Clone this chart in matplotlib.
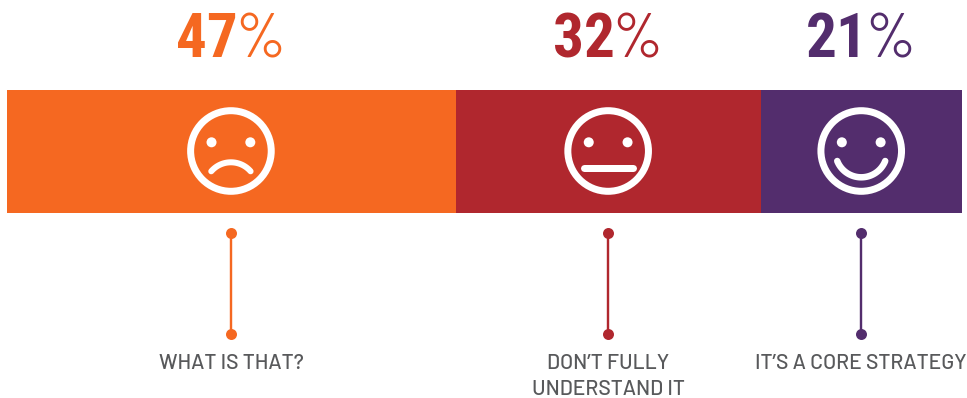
import numpy as np
import matplotlib
matplotlib.use("Agg")
import logging
import matplotlib.pyplot as plt
from matplotlib.patches import Circle, Rectangle

logging.getLogger("matplotlib.font_manager").setLevel(logging.ERROR)

# Survey results
shares = [47, 32, 21]
answers = ["WHAT IS THAT?", "DON\u2019T FULLY\nUNDERSTAND IT", "IT\u2019S A CORE STRATEGY"]
moods = ["sad", "neutral", "happy"]
colors = ["#F56821", "#B0272E", "#532D6D"]

BAR_LEFT, BAR_RIGHT = 7, 962
BAR_TOP, BAR_BOTTOM = 90, 213
FACE_Y = 151
PX = 0.72  # points per pixel at 100 dpi

DIGIT_FONT = ["Roboto Condensed", "Barlow Condensed", "Roboto"]
PERCENT_FONT = ["Barlow", "Roboto"]
LABEL_FONT = ["Barlow", "Roboto"]

fig = plt.figure(figsize=(9.67, 3.98), dpi=100)
ax = fig.add_axes([0, 0, 1, 1])
ax.set_xlim(0, 967)
ax.set_ylim(398, 0)
ax.axis("off")

scale = (BAR_RIGHT - BAR_LEFT) / sum(shares)


def draw_face(cx, mood):
    ax.add_patch(Circle((cx, FACE_Y), 40.3, fill=False, ec="white", lw=7 * PX, zorder=3))
    for dx in (-19.4, 19.4):
        ax.add_patch(Circle((cx + dx, FACE_Y - 8.7), 5, fc="white", ec="none", zorder=3))
    if mood == "neutral":
        ax.plot([cx - 24.5, cx + 24.5], [FACE_Y + 17.3] * 2, color="white", lw=7 * PX,
                solid_capstyle="round", zorder=3)
    elif mood == "sad":
        t = np.radians(np.linspace(40.8, 139.2, 40))
        ax.plot(cx + 26 * np.cos(t), FACE_Y + 37.3 - 26 * np.sin(t), color="white",
                lw=6 * PX, solid_capstyle="round", zorder=3)
    else:
        t = np.radians(np.linspace(21.6, 158.4, 60))
        ax.plot(cx + 25.8 * np.cos(t), FACE_Y + 0.5 + 25.8 * np.sin(t), color="white",
                lw=6.5 * PX, solid_capstyle="round", zorder=3)


renderer = fig.canvas.get_renderer()
left = BAR_LEFT
for share, answer, mood, color in zip(shares, answers, moods, colors):
    width = share * scale
    ax.add_patch(Rectangle((left, BAR_TOP), width, BAR_BOTTOM - BAR_TOP, fc=color, ec="none"))
    cx = left + width / 2 - 0.5
    draw_face(cx, mood)

    # Connector with its two end dots
    ax.plot([cx, cx], [233, 334], color=color, lw=2.4 * PX, solid_capstyle="butt")
    ax.plot([cx, cx], [233, 334], ls="none", marker="o", ms=11 * PX, mfc=color, mec="none")

    # Percentage: heavy digits followed by a lighter percent sign, centred as a pair
    num = ax.text(0, 57, str(share), family=DIGIT_FONT, weight=900, fontsize=44,
                  color=color, ha="left", va="baseline")
    pct = ax.text(0, 57, "%", family=PERCENT_FONT, weight="regular", fontsize=44,
                  color=color, ha="left", va="baseline")
    w_num = num.get_window_extent(renderer).width
    w_pct = pct.get_window_extent(renderer).width
    gap = -4
    start = cx - (w_num + w_pct + gap) / 2
    num.set_x(start)
    pct.set_x(start + w_num + gap)

    # Answer label, one text per line
    for i, line in enumerate(answer.split("\n")):
        ax.text(cx, 369 + i * 25.7, line, family=LABEL_FONT, weight=500, fontsize=15.2,
                color="#58595B", ha="center", va="baseline")
    left += width

fig.savefig("out.png", dpi=100, facecolor="white")
